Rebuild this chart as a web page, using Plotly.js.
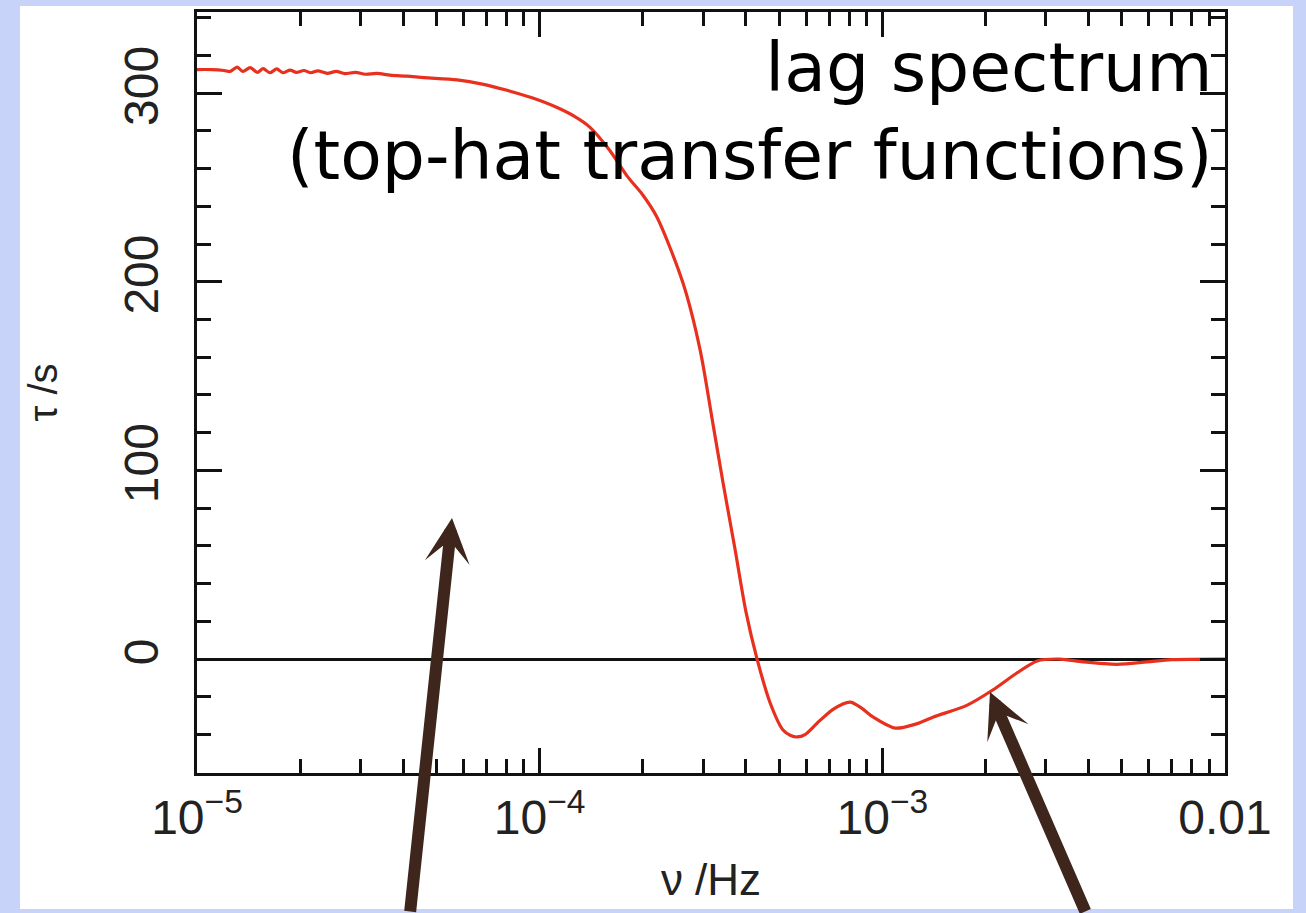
<!DOCTYPE html>
<html>
<head>
<meta charset="utf-8">
<script src="https://cdn.plot.ly/plotly-3.0.1.min.js"></script>
<style>html,body{margin:0;padding:0;background:#c8d3fa;}#chart{width:1306px;height:913px;}</style>
</head>
<body>
<div id="chart"></div>
<script>
// frequency (Hz)
const nu = [1.00e-5, 1.10e-5, 1.20e-5, 1.25e-5, 1.31e-5, 1.36e-5, 1.43e-5, 1.50e-5, 1.56e-5, 1.63e-5,
  1.71e-5, 1.78e-5, 1.87e-5, 1.95e-5, 2.05e-5, 2.15e-5, 2.25e-5, 2.40e-5, 2.55e-5, 2.70e-5,
  2.90e-5, 3.10e-5, 3.35e-5, 3.66e-5, 4.10e-5, 4.60e-5, 5.74e-5, 6.80e-5, 8.03e-5, 9.50e-5,
  1.12e-4, 1.26e-4, 1.40e-4, 1.60e-4, 1.80e-4, 2.00e-4, 2.20e-4, 2.62e-4, 2.94e-4, 3.18e-4,
  3.43e-4, 3.72e-4, 4.00e-4, 4.31e-4, 4.70e-4, 5.13e-4, 5.40e-4, 5.64e-4, 5.95e-4, 6.45e-4,
  7.20e-4, 8.05e-4, 8.70e-4, 9.39e-4, 1.09e-3, 1.25e-3, 1.41e-3, 1.77e-3, 2.10e-3, 2.47e-3,
  2.83e-3, 3.30e-3, 3.85e-3, 4.84e-3, 5.92e-3, 7.00e-3, 1.00e-2];
// lag (s)
const tau = [312.5, 312.5, 312.0, 311.5, 313.8, 311.5, 313.5, 311.0, 313.0, 310.8,
  312.8, 310.8, 312.2, 311.0, 312.0, 310.8, 311.8, 310.5, 311.5, 310.3,
  311.0, 310.0, 310.5, 309.5, 309.0, 308.2, 307.0, 304.8, 301.5, 297.5,
  292.5, 287.8, 282.0, 269.7, 256.0, 246.0, 234.2, 199.3, 163.8, 128.2,
  93.3, 57.8, 25.0, 0.0, -23.0, -37.6, -40.5, -41.3, -40.0, -34.0,
  -26.5, -22.8, -26.0, -30.7, -36.6, -34.5, -30.7, -24.4, -16.4, -7.4,
  -1.0, 0.0, -1.5, -2.8, -1.5, -0.3, 0.0];

const xTickVals = [1e-5, 1e-4, 1e-3, 1e-2];
const xTickText = ['10<sup>\u22125</sup>', '10<sup>\u22124</sup>', '10<sup>\u22123</sup>', '0.01'];
const yTickVals = [0, 100, 200, 300];
const yTickText = ['0', '100', '200', '300'];

const W = 1306, H = 913;
const m = {l: 197, r: 81, t: 12, b: 140};
const pw = W - m.l - m.r, ph = H - m.t - m.b;
const px = x => (x - m.l) / pw;
const py = y => (H - m.b - y) / ph;

const tickFont = {family: 'Liberation Sans, Arial, sans-serif', size: 48, color: '#222'};

const trace = {
  x: nu, y: tau, type: 'scatter', mode: 'lines',
  line: {color: '#e8301f', width: 3.2, shape: 'spline', smoothing: 0.8}, hoverinfo: 'skip'
};

const layout = {
  width: W, height: H,
  margin: m,
  paper_bgcolor: '#c8d3fa',
  plot_bgcolor: '#ffffff',
  showlegend: false,
  xaxis: {
    type: 'log', range: [-5, -2],
    tickmode: 'array', tickvals: xTickVals, ticktext: xTickText,
    ticks: 'inside', ticklen: 25, tickwidth: 3, tickcolor: '#111',
    showline: true, linecolor: '#111', linewidth: 3, mirror: 'allticks',
    showgrid: false, zeroline: false,
    tickfont: tickFont,
    minor: {ticks: 'inside', ticklen: 14, tickwidth: 3, tickcolor: '#111', dtick: 'D1', showgrid: false},
    title: {text: '\u03bd /Hz', font: {family: 'Liberation Sans, Arial, sans-serif', size: 44, color: '#222'}, standoff: 22}
  },
  yaxis: {
    range: [-60.4, 343],
    tickmode: 'array', tickvals: yTickVals, ticktext: yTickText,
    tickangle: -90,
    ticklabelstandoff: 17,
    ticks: 'inside', ticklen: 25, tickwidth: 3, tickcolor: '#111',
    showline: true, linecolor: '#111', linewidth: 3, mirror: 'allticks',
    showgrid: false,
    zeroline: true, zerolinecolor: '#111', zerolinewidth: 3,
    tickfont: tickFont,
    minor: {ticks: 'inside', ticklen: 14, tickwidth: 3, tickcolor: '#111', dtick: 20, showgrid: false},
    title: {text: '\u03c4 /s', font: {family: 'Liberation Sans, Arial, sans-serif', size: 40, color: '#222'}, standoff: 45}
  },
  shapes: [
    {type: 'rect', xref: 'paper', yref: 'paper', layer: 'below',
     x0: px(20), x1: px(1293), y0: py(909), y1: py(6),
     fillcolor: '#ffffff', line: {width: 0}}
  ],
  annotations: [
    {xref: 'paper', yref: 'paper', x: px(1214), y: py(26), xanchor: 'right', yanchor: 'top',
     align: 'right', showarrow: false,
     text: 'lag spectrum<br>(top-hat transfer functions)',
     font: {family: 'DejaVu Sans, sans-serif', size: 68, color: '#000'}},
    {xref: 'paper', yref: 'paper', x: px(452), y: py(518), text: '',
     showarrow: true, arrowhead: 3, arrowsize: 0.625, arrowwidth: 12, arrowcolor: '#3f261d',
     axref: 'pixel', ayref: 'pixel', ax: 410 - 452, ay: 930 - 518},
    {xref: 'paper', yref: 'paper', x: px(990), y: py(692), text: '',
     showarrow: true, arrowhead: 3, arrowsize: 0.625, arrowwidth: 12, arrowcolor: '#3f261d',
     axref: 'pixel', ayref: 'pixel', ax: 1086 - 990, ay: 930 - 692}
  ]
};

Plotly.newPlot('chart', [trace], layout, {displayModeBar: false, staticPlot: true});
</script>
</body>
</html>
